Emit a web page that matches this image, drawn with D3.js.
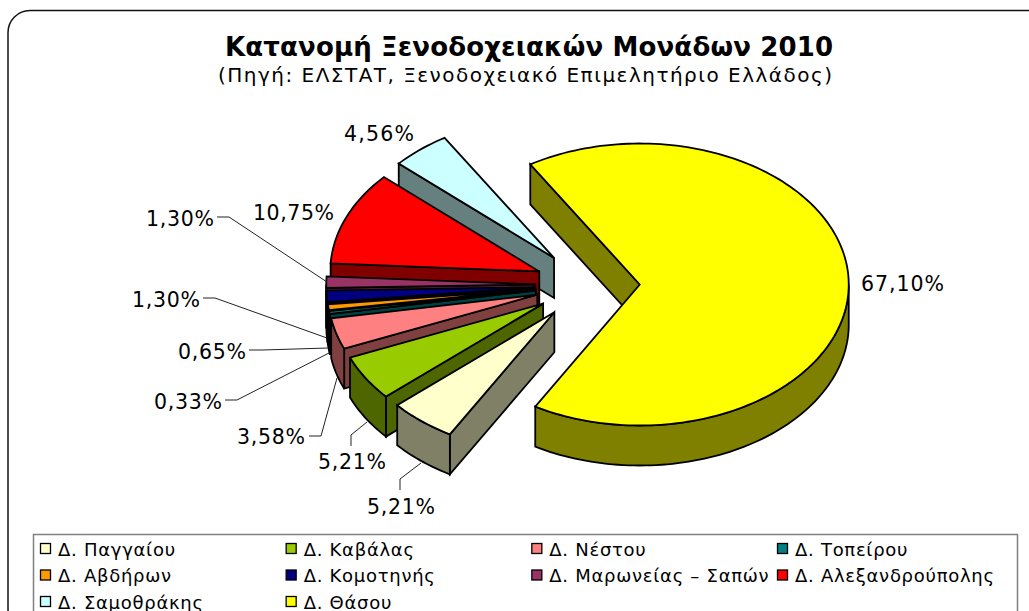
<!DOCTYPE html>
<html lang="el">
<head>
<meta charset="utf-8">
<script src="https://cdn.jsdelivr.net/npm/d3@7"></script>
<style>
html,body{margin:0;padding:0;background:#fff;overflow:hidden}
svg{display:block}
text{font-family:"DejaVu Sans",sans-serif;fill:#000}
</style>
</head>
<body>
<svg id="c" width="1029" height="611"></svg>
<script>
const categories = ["Δ. Παγγαίου","Δ. Καβάλας","Δ. Νέστου","Δ. Τοπείρου","Δ. Αβδήρων","Δ. Κομοτηνής","Δ. Μαρωνείας – Σαπών","Δ. Αλεξανδρούπολης","Δ. Σαμοθράκης","Δ. Θάσου"];
const values = [5.21,5.21,3.58,0.33,0.65,1.30,1.30,10.75,4.56,67.10];
const colors = ["#FFFFCC","#99CC00","#FF8080","#008080","#FF9900","#000080","#993366","#FF0000","#CCFFFF","#FFFF00"];
const titleText = "Κατανομή Ξενοδοχειακών Μονάδων 2010";
const subtitleText = "(Πηγή: ΕΛΣΤΑΤ, Ξενοδοχειακό Επιμελητήριο Ελλάδος)";

const labelLayout = [[367,68,506],[318,68,461],[237,68,436],[154,68,401],[178,68,351],[132,68,299],[146,68,218],[253,81,212],[344,70,133],[861,83,283]];
const leaders = [
  [[400,490],[400,479],[421,463]],
  [[351,446],[351,435],[367,422]],
  [[309,436],[321,436],[337,378]],
  [[225,400],[237,400],[329,353]],
  [[249,350],[262,350],[328,348]],
  [[203,298],[215,298],[327,338]],
  [[217,217],[229,217],[327,282]]
];

const svg = d3.select("#c");
const cx = 587.5, cy = 285, rx = 209, ry = 141, depth = 40, explode = 0.25;
const xS = d3.scaleLinear().domain([-1,1]).range([cx-rx,cx+rx]);
const yS = d3.scaleLinear().domain([-1,1]).range([cy-ry,cy+ry]);
const rad = Math.PI/180;

const pie = d3.pie().sort(null).value(d=>d).startAngle(120*rad).endAngle(480*rad);
const slices = pie(values).map((a,i)=>{
  const mid=(a.startAngle+a.endAngle)/2;
  return {i,a0:a.startAngle,a1:a.endAngle,ox:explode*Math.cos(mid),oy:explode*Math.sin(mid)};
});
const line = d3.line();
const pt = (s,t,dz=0)=>[xS(s.ox+Math.cos(t)),yS(s.oy+Math.sin(t))+dz];
const apex = (s,dz=0)=>[xS(s.ox),yS(s.oy)+dz];
const samples = (a,b)=>{const n=Math.max(2,Math.ceil((b-a)/(1.5*rad)));return d3.range(n+1).map(k=>a+(b-a)*k/n);};

svg.append("rect").attr("x",8).attr("y",10.5).attr("width",1041).attr("height",620).attr("rx",22)
  .attr("fill","#fff").attr("stroke","#111").attr("stroke-width",1.5);

svg.append("text").attr("x",529).attr("y",56).attr("text-anchor","middle").attr("font-size",26).attr("font-weight","bold")
  .attr("textLength",608).attr("lengthAdjust","spacing").text(titleText);
svg.append("text").attr("x",525).attr("y",82).attr("text-anchor","middle").attr("font-size",20)
  .attr("textLength",614).attr("lengthAdjust","spacing").text(subtitleText);

const g = svg.append("g").attr("stroke","#000").attr("stroke-width",1.8).attr("stroke-linejoin","miter").attr("stroke-miterlimit",3);
const order = [9,8,7,6,5,4,3,2,1,0];
order.forEach(i=>{
  const s = slices[i], top = colors[i], c = d3.rgb(top);
  const side = d3.rgb(c.r*0.5,c.g*0.5,c.b*0.5).formatHex();
  if (Math.cos(s.a0) < 0) {
    g.append("path").attr("fill",side)
      .attr("d",line([apex(s),pt(s,s.a0),pt(s,s.a0,depth),apex(s,depth)])+"Z");
  }
  const ranges = [[0,Math.PI],[2*Math.PI,3*Math.PI]];
  ranges.forEach(([lo,hi])=>{
    const a=Math.max(s.a0,lo), b=Math.min(s.a1,hi);
    if (b>a){
      const ts=samples(a,b);
      g.append("path").attr("fill",side)
        .attr("d",line([...ts.map(t=>pt(s,t)),...ts.slice().reverse().map(t=>pt(s,t,depth))])+"Z");
    }
  });
  g.append("path").attr("fill",top)
    .attr("d",line([apex(s),...samples(s.a0,s.a1).map(t=>pt(s,t))])+"Z");
});

svg.append("g").attr("fill","none").attr("stroke","#222").attr("stroke-width",1)
  .selectAll("path").data(leaders).join("path").attr("d",d=>line(d));

svg.append("g").selectAll("text").data(values).join("text")
  .attr("x",(d,i)=>labelLayout[i][0])
  .attr("y",(d,i)=>labelLayout[i][2]+7.5)
  .attr("font-size",20.5)
  .attr("textLength",(d,i)=>labelLayout[i][1])
  .attr("lengthAdjust","spacing")
  .text(d=>d.toFixed(2).replace(".",",")+"%");

svg.append("rect").attr("x",33.5).attr("y",534.5).attr("width",984).attr("height",100)
  .attr("fill","#fff").attr("stroke","#808080").attr("stroke-width",1.5);
const colX = d3.scalePoint().domain(d3.range(4)).range([40,777]);
const rowY = d3.scalePoint().domain(d3.range(3)).range([549,602]);
const leg = svg.append("g").selectAll("g").data(categories).join("g")
  .attr("transform",(d,i)=>`translate(${colX(i%4)},${rowY(Math.floor(i/4))})`);
leg.append("rect").attr("x",0.5).attr("y",-5.5).attr("width",10).attr("height",10)
  .attr("fill",(d,i)=>colors[i]).attr("stroke","#000").attr("stroke-width",1.3);
leg.append("text").attr("x",18).attr("y",6.5).attr("font-size",18).attr("letter-spacing",0.72).text(d=>d);
</script>
</body>
</html>
